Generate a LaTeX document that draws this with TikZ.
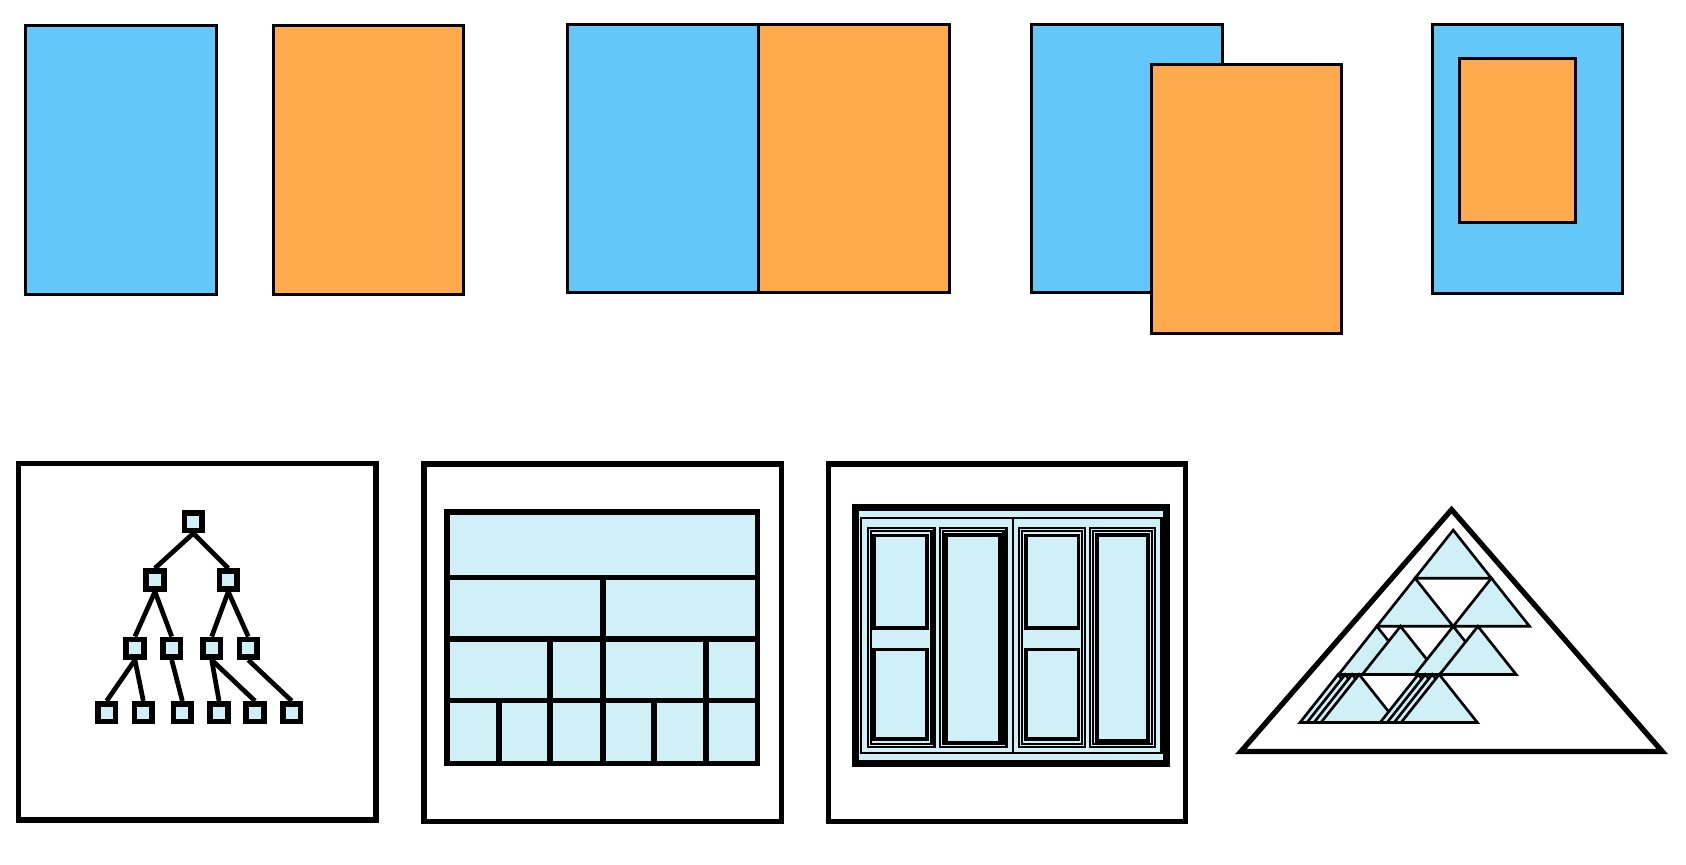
\documentclass[tikz,border=0pt]{standalone}
\usepackage{xcolor}
\usepackage{tikz}
\usetikzlibrary{positioning}
\definecolor{kblue}{HTML}{64C7FA}
\definecolor{korange}{HTML}{FFAA4C}
\definecolor{kice}{HTML}{D0F0F8}

\tikzset{
  sheet/.style={draw=black, line width=0.8pt},
  frame/.style={draw=black, line width=1.45pt},
  leaf/.style={draw=black, fill=kice, line width=1.5pt, minimum size=0.165cm, inner sep=0pt},
  twig/.style={line width=1.25pt},
  cell/.style={line width=1.5pt},
  pane/.style={draw=black, line width=0.6pt},
  glass/.style={draw=black, line width=1pt},
  tri/.style={draw=black, fill=kice, line width=0.7pt, line join=miter},
}
\newcommand\ktri[2]{\filldraw[tri] (#1,#2) -- ++(-35.5,44.75) -- ++(71,0) -- cycle;}

\begin{document}
\begin{tikzpicture}[x=0.01cm, y=-0.01cm]
\useasboundingbox (0,0) rectangle (1568,804);
\filldraw[sheet, fill=kblue] (24,24) rectangle (201,274);
\filldraw[sheet, fill=korange] (254,24) rectangle (431,274);
\filldraw[sheet, fill=kblue] (528,23) rectangle (705,272);
\filldraw[sheet, fill=korange] (705,23) rectangle (883,272);
\filldraw[sheet, fill=kblue] (959,23) rectangle (1137,272);
\filldraw[sheet, fill=korange] (1071,60) rectangle (1248,310);
\filldraw[sheet, fill=kblue] (1332,23) rectangle (1509,273);
\filldraw[sheet, fill=korange] (1357,54) rectangle (1465,207);

\draw[frame] (17,431) rectangle (349.7,762.6);
\node[leaf] (root) at (179.8,485.1) {};
\node[leaf] (n1) at (144.1,539.4) {};
\node[leaf] (n2) at (212.3,539.4) {};
\node[leaf] (m1) at (125.5,602.9) {};
\node[leaf] (m2) at (159.7,602.9) {};
\node[leaf] (m3) at (196.9,602.9) {};
\node[leaf] (m4) at (230.9,602.9) {};
\node[leaf] (l1) at (99.2,662.8) {};
\node[leaf] (l2) at (133.3,662.8) {};
\node[leaf] (l3) at (169.6,662.8) {};
\node[leaf] (l4) at (203.7,662.8) {};
\node[leaf] (l5) at (237.1,662.8) {};
\node[leaf] (l6) at (271.3,662.8) {};
\foreach \p/\c in {root/n1, root/n2, n1/m1, n1/m2, n2/m3, n2/m4, m1/l1, m1/l2, m2/l3, m3/l4, m3/l5, m4/l6}
  \draw[twig] (\p.south) -- (\c.north);

\draw[frame] (394.3,431.5) rectangle (727,764.1);
\filldraw[cell, fill=kice] (416,476) rectangle (704.6,710);
\foreach \y in {537,594.6,651.6}
  \draw[cell] (416,\y) -- (704.6,\y);
\draw[cell] (560.5,537) -- (560.5,594.6);
\foreach \x in {511.5,560.5,656.3}
  \draw[cell] (\x,594.6) -- (\x,651.6);
\foreach \x in {464.1,511.5,560.5,608.5,656.3}
  \draw[cell] (\x,651.6) -- (\x,710);

\draw[frame] (770.3,431.5) rectangle (1102.7,764.1);
\filldraw[line width=1.7pt, fill=kice] (795.8,471.8) rectangle (1085,710.2);
\draw[pane] (800.4,482) rectangle (1080.3,700.6);
\draw[pane] (942.4,482) -- (942.4,700.6);
\foreach \a/\b in {807/869, 874/936, 947.5/1009, 1013.5/1074}{
  \draw[pane] (\a,491) rectangle (\b,694.5);
  \draw[pane] (\a+2.8,493.8) rectangle (\b-2.8,691.7);
}
\draw[glass] (813,498) rectangle (862,584);
\draw[glass] (813,604) rectangle (862,687);
\draw[glass] (880,497.5) rectangle (930,690.5);
\draw[glass] (954,498) rectangle (1003,584);
\draw[glass] (954,604) rectangle (1003,687);
\draw[glass] (1020,497.5) rectangle (1068,689);

\draw[line width=1.4pt, line join=miter] (1350,474) -- (1154,699) -- (1546,699) -- cycle;
\ktri{1351.5}{493}
\ktri{1316}{537.75}
\ktri{1387}{537.75}
\foreach \x in {1280.5,1302.5,1351.5,1374.5}{
  \ktri{\x}{582.5}
}
\foreach \x in {1244.5,1251,1257.5,1264,1319,1325.5,1332,1338.5}{
  \ktri{\x}{627.25}
}
\end{tikzpicture}
\end{document}
